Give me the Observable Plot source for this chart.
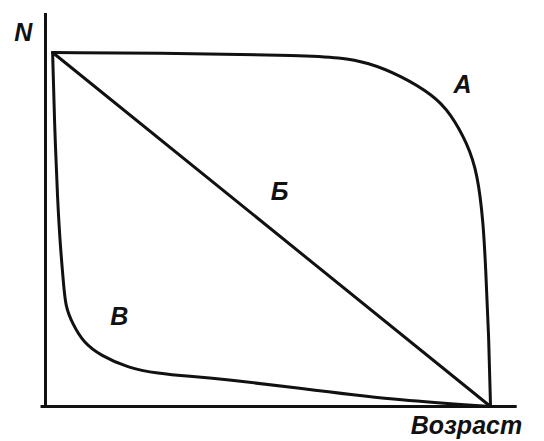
<!DOCTYPE html>
<html>
<head>
<meta charset="utf-8">
<script src="https://cdn.jsdelivr.net/npm/d3@7"></script>
<script src="https://cdn.jsdelivr.net/npm/@observablehq/plot@0.6"></script>
<style>
  html, body { margin: 0; padding: 0; background: #fff; }
  svg { display: block; }
</style>
</head>
<body>
<div id="chart"></div>
<script>
// Survivorship curves: age (0–100 % of lifespan) vs N (0–100 %)
const curveA_age = [1.6, 34.8, 57.3, 66.3, 72.4, 79.8, 87.2, 91.0, 94.8, 97.1, 98.4, 98.9, 99.6, 100];
const curveA_N   = [100, 99.7, 99.2, 98.6, 97.2, 93.5, 87.9, 82.8, 74.3, 65.8, 51.7, 39.3, 20.6, 0];

const curveB_age = [1.6, 100];
const curveB_N   = [100, 0];

const curveV_age = [1.6, 2.0, 2.7, 3.4, 4.0, 4.5, 6.1, 8.5, 12.4, 18.4, 25.2, 32.6, 39.3, 61.1, 79.8, 100];
const curveV_N   = [100, 80.8, 58.2, 44.1, 35.6, 28.0, 23.4, 18.1, 14.4, 11.0, 9.3, 8.5, 7.9, 4.5, 1.7, 0];

const curveLabels = ["A", "Б", "В"];
const labelAge = [93.7, 52.6, 16.6];
const labelN   = [90.7, 60.7, 25.4];

const axisTitles = ["N", "Возраст"];
const axisTitleAge = [-5.0, 94.6];
const axisTitleN   = [105.6, -5.4];

const axisExtentAge = [-1, 106];
const axisExtentN = [-0.5, 111];

const toPts = (xs, ys) => xs.map((x, i) => ({age: x, n: ys[i]}));
const A = toPts(curveA_age, curveA_N);
const B = toPts(curveB_age, curveB_N);
const V = toPts(curveV_age, curveV_N);
const labels = curveLabels.map((t, i) => ({t, age: labelAge[i], n: labelN[i]}));
const titles = axisTitles.map((t, i) => ({t, age: axisTitleAge[i], n: axisTitleN[i]}));

const font = "'Liberation Sans', Arial, sans-serif";

const chart = Plot.plot({
  width: 544,
  height: 441,
  marginLeft: 45,
  marginRight: 54,
  marginTop: 52,
  marginBottom: 35,
  x: {domain: [0, 100], axis: null},
  y: {domain: [0, 100], axis: null},
  style: {fontFamily: font, background: "#fff"},
  marks: [
    Plot.ruleX([0], {y1: axisExtentN[0], y2: axisExtentN[1], stroke: "#111", strokeWidth: 3, clip: false}),
    Plot.ruleY([0], {x1: axisExtentAge[0], x2: axisExtentAge[1], stroke: "#111", strokeWidth: 3, clip: false}),
    Plot.line(A, {x: "age", y: "n", curve: "basis", stroke: "#111", strokeWidth: 3}),
    Plot.line(B, {x: "age", y: "n", stroke: "#111", strokeWidth: 3}),
    Plot.line(V, {x: "age", y: "n", curve: "basis", stroke: "#111", strokeWidth: 3}),
    Plot.text(labels, {x: "age", y: "n", text: "t", fontSize: 25, fontWeight: "bold", fontStyle: "italic", fill: "#111", textAnchor: "middle", lineAnchor: "middle"}),
    Plot.text(titles, {x: "age", y: "n", text: "t", fontSize: 25, fontWeight: "bold", fontStyle: "italic", fill: "#111", textAnchor: "middle", lineAnchor: "middle", clip: false})
  ]
});
document.getElementById("chart").appendChild(chart);
</script>
</body>
</html>
